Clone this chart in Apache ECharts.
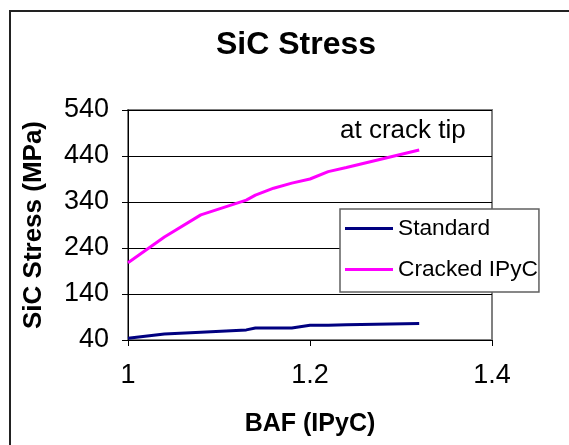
<!DOCTYPE html>
<html>
<head>
<meta charset="utf-8">
<title>SiC Stress</title>
<script src="https://cdn.jsdelivr.net/npm/echarts@6/dist/echarts.min.js"></script>
<style>
  html, body { margin: 0; padding: 0; background: #fff; }
  #chart { width: 569px; height: 445px; }
</style>
</head>
<body>
<div id="chart"></div>
<script>
// BAF (IPyC) on the x axis
const bafValues = [1, 1.04, 1.08, 1.13, 1.14, 1.16, 1.18, 1.2, 1.22, 1.24, 1.32]
// SiC stress (MPa)
const standardStress = [44, 53, 57, 62, 66, 66, 66, 72, 72, 73, 76]
const crackedStress = [208, 264, 312, 344, 355, 370, 381, 390, 406, 415, 453]
// tick labels
const xTicks = [1, 1.2, 1.4]
const yTicks = [40, 140, 240, 340, 440, 540]

const font = 'Liberation Sans, Arial, sans-serif'

function pairs(xs, ys) {
  return xs.map((x, i) => [x, ys[i]])
}

const chart = echarts.init(document.getElementById('chart'))

const options = {
  animation: false,
  title: {
    text: 'SiC Stress',
    left: 216,
    top: 29,
    padding: 0,
    textStyle: { fontFamily: font, fontSize: 32, fontWeight: 'bold', color: '#000' },
  },
  graphic: [
    // outer chart frame (runs off the right/bottom edge)
    {
      type: 'rect',
      shape: { x: 10, y: 11, width: 600, height: 500 },
      style: { fill: 'none', stroke: '#222', lineWidth: 2 },
      silent: true,
    },
    {
      type: 'text',
      left: 340,
      top: 118,
      z: 10,
      style: { text: 'at crack tip', fontFamily: font, fontSize: 26, fill: '#000' },
    },
  ],
  legend: {
    orient: 'vertical',
    left: 340,
    top: 209,
    padding: [8, 1, 11, 5],
    itemGap: 18,
    itemWidth: 48,
    itemHeight: 3,
    icon: 'rect',
    backgroundColor: '#fff',
    borderColor: '#606060',
    borderWidth: 1.5,
    textStyle: { fontFamily: font, fontSize: 22.7, color: '#000', padding: [0, 0, 0, 0] },
    data: ['Standard', 'Cracked IPyC'],
  },
  grid: {
    left: 128,
    top: 110,
    right: 77,
    bottom: 105,
    show: true,
    borderColor: '#808080',
    borderWidth: 2,
    backgroundColor: '#fff',
  },
  xAxis: {
    type: 'value',
    min: 1,
    max: 1.4,
    name: 'BAF (IPyC)',
    nameLocation: 'middle',
    nameGap: 72,
    nameTextStyle: { fontFamily: font, fontSize: 25, fontWeight: 'bold', color: '#000' },
    axisLine: { show: true, lineStyle: { color: '#000', width: 1 } },
    axisTick: { show: true, inside: false, length: 6, lineStyle: { color: '#000' }, customValues: xTicks },
    axisLabel: { margin: 22, fontFamily: font, fontSize: 27, color: '#000', customValues: xTicks },
    splitLine: { show: false },
  },
  yAxis: {
    type: 'value',
    min: 40,
    max: 540,
    name: 'SiC Stress (MPa)',
    nameLocation: 'middle',
    nameGap: 81,
    nameTextStyle: { fontFamily: font, fontSize: 26, fontWeight: 'bold', color: '#000' },
    axisLine: { show: true, lineStyle: { color: '#000', width: 1 } },
    axisTick: { show: true, inside: false, length: 6, lineStyle: { color: '#000' }, customValues: yTicks },
    axisLabel: { margin: 19, fontFamily: font, fontSize: 27, color: '#000', customValues: yTicks },
    splitLine: { show: true, lineStyle: { color: '#000', width: 1 } },
  },
  series: [
    {
      name: 'Standard',
      type: 'line',
      showSymbol: false,
      color: '#000080',
      lineStyle: { width: 3, color: '#000080' },
      data: pairs(bafValues, standardStress),
    },
    {
      name: 'Cracked IPyC',
      type: 'line',
      showSymbol: false,
      color: '#ff00ff',
      lineStyle: { width: 3, color: '#ff00ff' },
      data: pairs(bafValues, crackedStress),
    },
  ],
}

chart.setOption(options)
</script>
</body>
</html>
